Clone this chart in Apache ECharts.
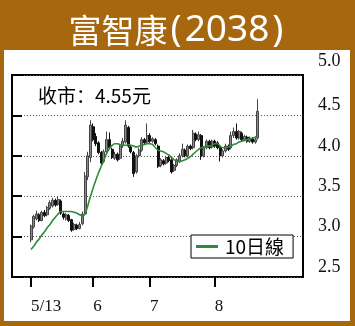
<!DOCTYPE html>
<html><head><meta charset="utf-8">
<script src="https://cdn.jsdelivr.net/npm/echarts@6/dist/echarts.min.js"></script>
<style>html,body{margin:0;padding:0;background:#A6670F;}#c{width:355px;height:326px;}</style>
</head><body><div id="c"></div>
<script>
const titleName = '富智康';
const titleCode = '2038';
const seriesName = '10日線';
const tickLabels = ['5/13', '6', '7', '8'];
const tickIndex = [0, 23, 44, 68];
const yTicks = [2.5, 3.0, 3.5, 4.0, 4.5, 5.0];
const opens = [2.96,3.12,3.22,3.27,3.20,3.30,3.27,3.35,3.38,3.45,3.40,3.44,3.28,3.22,3.26,3.21,3.09,3.14,3.10,3.16,3.28,3.74,3.98,4.36,4.24,4.16,4.04,3.93,4.05,4.20,4.08,3.97,4.02,3.97,4.12,4.17,4.35,4.11,4.04,3.80,4.00,4.07,4.20,4.17,4.25,4.18,4.20,4.12,3.88,3.94,3.91,3.98,3.95,3.82,3.88,3.93,4.00,4.07,4.00,4.12,4.10,4.27,4.20,4.25,4.00,4.10,4.18,4.11,4.18,4.16,4.10,4.00,4.06,4.12,4.10,4.25,4.30,4.22,4.28,4.20,4.23,4.18,4.21,4.17,4.22];
const closes = [3.13,3.25,3.28,3.20,3.30,3.26,3.36,3.42,3.45,3.39,3.46,3.29,3.24,3.27,3.20,3.08,3.15,3.10,3.15,3.28,3.75,4.00,4.38,4.20,4.15,4.04,3.91,4.05,4.20,4.10,3.98,4.02,3.95,4.12,4.18,4.38,4.12,4.05,3.78,4.00,4.07,4.20,4.16,4.25,4.18,4.21,4.15,3.87,3.95,3.90,3.98,3.94,3.80,3.88,3.95,4.00,4.08,4.00,4.12,4.09,4.28,4.20,4.26,4.00,4.10,4.18,4.10,4.18,4.12,4.10,4.00,4.06,4.12,4.08,4.25,4.30,4.22,4.30,4.20,4.24,4.18,4.22,4.17,4.20,4.55];
const lows = [2.93,3.10,3.20,3.18,3.19,3.24,3.25,3.33,3.36,3.37,3.38,3.27,3.21,3.20,3.18,3.06,3.07,3.08,3.09,3.14,3.26,3.70,3.92,4.18,4.12,4.02,3.88,3.91,4.03,4.08,3.96,3.95,3.93,3.95,4.10,4.15,4.10,4.03,3.74,3.78,3.98,4.05,4.14,4.15,4.16,4.16,4.13,3.85,3.86,3.88,3.89,3.92,3.78,3.80,3.86,3.91,3.98,3.98,3.98,4.07,4.08,4.18,4.18,3.95,3.98,4.08,4.08,4.09,4.10,4.08,3.93,3.98,4.04,4.06,4.08,4.22,4.20,4.20,4.18,4.18,4.16,4.16,4.15,4.15,4.20];
const highs = [3.15,3.27,3.32,3.29,3.32,3.33,3.38,3.45,3.48,3.47,3.49,3.46,3.30,3.29,3.28,3.22,3.17,3.16,3.18,3.31,3.80,4.05,4.44,4.40,4.28,4.18,4.06,4.08,4.30,4.29,4.10,4.05,4.04,4.14,4.22,4.44,4.37,4.13,4.06,4.02,4.10,4.23,4.22,4.40,4.28,4.23,4.22,4.14,3.97,3.96,4.00,4.00,3.97,3.90,3.97,4.03,4.15,4.09,4.14,4.14,4.32,4.29,4.30,4.27,4.12,4.20,4.20,4.20,4.20,4.18,4.12,4.08,4.15,4.14,4.30,4.35,4.40,4.32,4.30,4.26,4.25,4.24,4.23,4.22,4.70];
const ma10 = [2.84,2.88,2.93,2.97,3.02,3.06,3.11,3.15,3.20,3.24,3.28,3.31,3.31,3.31,3.31,3.31,3.30,3.29,3.27,3.26,3.28,3.38,3.50,3.60,3.70,3.79,3.87,3.95,4.03,4.09,4.13,4.15,4.15,4.14,4.13,4.13,4.14,4.13,4.12,4.11,4.12,4.13,4.14,4.15,4.15,4.14,4.10,4.07,4.06,4.05,4.03,4.01,3.98,3.95,3.93,3.93,3.94,3.95,3.97,3.99,4.02,4.05,4.08,4.10,4.11,4.12,4.12,4.13,4.15,4.15,4.12,4.10,4.10,4.11,4.12,4.14,4.15,4.17,4.18,4.19,4.20,4.21,4.22,4.23,4.26];

const cats = closes.map((_, i) => String(i));
const candles = closes.map((c, i) => [opens[i], c, lows[i], highs[i]]);
const lastClose = closes[closes.length - 1];

const chart = echarts.init(document.getElementById('c'));
const serif = 'Liberation Serif';
chart.setOption({
  animation: false,
  backgroundColor: '#A6670F',
  title: {
    text: '{a|' + titleName + '}{p|(}{b|' + titleCode + '}{p|)}',
    left: 'center', top: 7,
    textStyle: {
      fontWeight: 'normal',
      rich: {
        a: {fontSize: 33, fontFamily: 'Noto Sans CJK SC', fontWeight: 'normal', color: '#fff', verticalAlign: 'middle'},
        p: {fontSize: 37, fontFamily: 'Noto Sans', fontWeight: 'normal', color: '#fff', padding: [0, 3, 0, 3], verticalAlign: 'middle'},
        b: {fontSize: 37, fontFamily: 'Noto Sans', fontWeight: 'normal', color: '#fff', verticalAlign: 'middle'}
      }
    }
  },
  graphic: [
    {type: 'rect', z: -10, shape: {x: 4, y: 50, width: 346, height: 271}, style: {fill: '#fff'}},
    {type: 'text', z: 10, left: 38, top: 86, style: {text: '收市：' + lastClose.toFixed(2) + '元', font: '19px "Noto Sans CJK SC"', fill: '#000'}}
  ],
  legend: {
    data: [seriesName], left: 191, top: 235,
    backgroundColor: '#fff', borderColor: '#000', borderWidth: 1,
    padding: [2, 9, 2, 5], icon: 'rect', itemWidth: 22, itemHeight: 3,
    textStyle: {fontSize: 19, fontFamily: 'Noto Sans CJK SC', color: '#000', padding: [0, 0, 0, 2]}
  },
  grid: [
    {left: 12, right: 52, top: 75, bottom: 49, show: true, borderColor: '#000', borderWidth: 2, backgroundColor: 'transparent'},
    {left: 29.65, right: 95.65, top: 75, bottom: 49}
  ],
  xAxis: [
    {gridIndex: 0, type: 'value', min: 0, max: 1, show: false},
    {gridIndex: 1, type: 'category', data: cats, boundaryGap: true,
     axisLine: {show: false},
     axisTick: {show: true, alignWithLabel: true, length: 10, lineStyle: {color: '#000', width: 2},
       interval: (idx) => tickIndex.includes(idx)},
     axisLabel: {interval: (idx) => tickIndex.includes(idx), align: 'left', margin: 21,
       formatter: (v, idx) => { const k = tickIndex.indexOf(Number(v)); return k >= 0 ? tickLabels[k] : ''; },
       fontFamily: serif, fontSize: 17, color: '#111'},
     splitLine: {show: false}}
  ],
  yAxis: [
    {gridIndex: 0, type: 'value', position: 'right', min: yTicks[0], max: yTicks[yTicks.length - 1], interval: 0.5,
     axisLine: {show: true, lineStyle: {color: '#000', width: 2}},
     axisTick: {show: true, length: 10, lineStyle: {color: '#000', width: 2}},
     axisLabel: {margin: 15, fontFamily: serif, fontSize: 18, color: '#111', verticalAlign: 'bottom', padding: [0, 0, 1, 0],
       formatter: (v) => v === 5 ? '{t|5.0}' : v.toFixed(1),
       rich: {t: {fontFamily: serif, fontSize: 18, color: '#111', padding: [0, 0, 4, 0]}}},
     splitLine: {show: true, lineStyle: {color: '#555', type: [1, 2], width: 1}}},
    {gridIndex: 1, type: 'value', min: yTicks[0], max: yTicks[yTicks.length - 1], show: false}
  ],
  series: [
    {type: 'candlestick', xAxisIndex: 1, yAxisIndex: 1, data: candles, barWidth: 2.5,
     itemStyle: {color: '#8a8a8a', color0: '#111', borderColor: '#444', borderColor0: '#111', borderWidth: 1}},
    {type: 'line', name: seriesName, xAxisIndex: 1, yAxisIndex: 1, data: ma10, symbol: 'none', smooth: 0.3,
     lineStyle: {color: '#2e8b3a', width: 1.6}, itemStyle: {color: '#2e8b3a'}, z: 5}
  ]
});
</script></body></html>
